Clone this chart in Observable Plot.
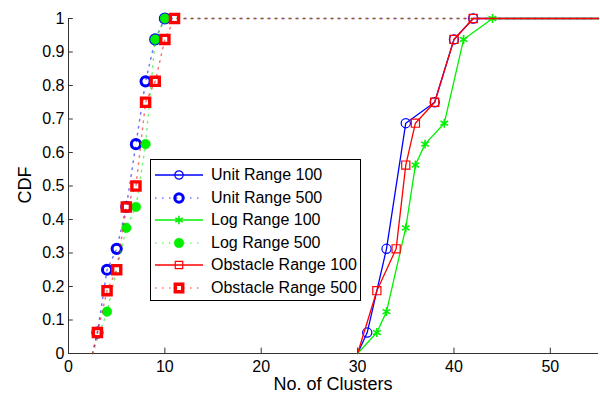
<!DOCTYPE html>
<html>
<head>
<meta charset="utf-8">
<script src="https://cdn.jsdelivr.net/npm/d3@7"></script>
<script src="https://cdn.jsdelivr.net/npm/@observablehq/plot@0.6"></script>
<style>
  html, body { margin: 0; padding: 0; background: #fff; }
  #wrap { position: relative; width: 600px; height: 400px; font-family: "Liberation Sans", Arial, sans-serif; }
  #legend { position: absolute; left: 150px; top: 159px; width: 211px; height: 142px; border: 1px solid #000; background: #fff; box-sizing: border-box; }
  .row { position: absolute; left: 0; height: 22px; display: flex; align-items: center; }
  .row span { font-size: 16px; color: #000; margin-left: 6px; white-space: nowrap; }
</style>
</head>
<body>
<div id="wrap"></div>
<script>
// ---- data ----
const unit100X = [30, 31, 33, 35, 38, 40, 42, 55];
const unit100Y = [0, 0.0625, 0.3125, 0.6875, 0.75, 0.9375, 1, 1];
const unit500X = [2.5, 3, 4, 5, 6, 7, 8, 9, 10, 55];
const unit500Y = [0, 0.0625, 0.25, 0.3125, 0.4375, 0.625, 0.8125, 0.9375, 1, 1];
const log100X = [30, 32, 33, 35, 36, 37, 39, 41, 44, 55];
const log100Y = [0, 0.0625, 0.125, 0.375, 0.5625, 0.625, 0.6875, 0.9375, 1, 1];
const log500X = [2.5, 4, 6, 7, 8, 9, 10, 55];
const log500Y = [0, 0.125, 0.375, 0.4375, 0.625, 0.9375, 1, 1];
const obst100X = [30, 32, 34, 35, 36, 38, 40, 42, 55];
const obst100Y = [0, 0.1875, 0.3125, 0.5625, 0.6875, 0.75, 0.9375, 1, 1];
const obst500X = [2.5, 3, 4, 5, 6, 7, 8, 9, 10, 11, 55];
const obst500Y = [0, 0.0625, 0.1875, 0.25, 0.4375, 0.5, 0.75, 0.8125, 0.9375, 1, 1];
const xTicks = [0, 10, 20, 30, 40, 50];
const yTicks = [0, 0.1, 0.2, 0.3, 0.4, 0.5, 0.6, 0.7, 0.8, 0.9, 1];
const yTickLabels = ["0", "0.1", "0.2", "0.3", "0.4", "0.5", "0.6", "0.7", "0.8", "0.9", "1"];
const seriesNames = ["Unit Range 100", "Unit Range 500", "Log Range 100", "Log Range 500", "Obstacle Range 100", "Obstacle Range 500"];

const BLUE = "#0000ff", GREEN = "#00f000", RED = "#ff0000";

function pts(xs, ys) { return xs.map((x, i) => ({x, y: ys[i]})); }
// markers are drawn at data points, excluding the padded curve ends
function markers(xs, ys) { return pts(xs, ys).filter((d, i) => i > 0 && i < xs.length - 1); }

const u100 = pts(unit100X, unit100Y), u500 = pts(unit500X, unit500Y);
const l100 = pts(log100X, log100Y), l500 = pts(log500X, log500Y);
const o100 = pts(obst100X, obst100Y), o500 = pts(obst500X, obst500Y);

const dotted = "1.5,5.5";
const dotOp = 0.55;

const chart = Plot.plot({
  width: 600,
  height: 400,
  marginLeft: 68,
  marginRight: 2,
  marginTop: 18,
  marginBottom: 47,
  style: { fontFamily: "Liberation Sans, Arial, sans-serif", fontSize: "16px", background: "#fff" },
  x: { type: "linear", domain: [0, 55], label: null },
  y: { type: "linear", domain: [0, 1], label: null },
  marks: [
    // axes lines
    Plot.ruleY([0], { x1: 0, x2: 55, stroke: "#333", strokeWidth: 1 }),
    Plot.ruleX([0], { y1: 0, y2: 1, stroke: "#333", strokeWidth: 1 }),
    // inward ticks
    Plot.ruleX(xTicks.filter(d => d > 0), { x: d => d, y1: 0, y2: 0.016, stroke: "#333", strokeWidth: 1 }),
    Plot.axisX(xTicks, { tickSize: 0, tickPadding: 7, fontSize: 16, fill: "#000", tickFormat: d => String(d), label: null }),
    Plot.axisY(yTicks, { tickSize: 0, tickPadding: 4, fontSize: 16, fill: "#000", tickFormat: (d, i) => yTickLabels[i], label: null }),
    // 100 series (solid) and 500 series (dotted)
    Plot.line(u100, { x: "x", y: "y", stroke: BLUE, strokeWidth: 1.3 }),
    Plot.dot(markers(unit100X, unit100Y), { x: "x", y: "y", r: 4.6, stroke: BLUE, strokeWidth: 1.2, fill: "none" }),
    Plot.line(u500, { x: "x", y: "y", stroke: BLUE, strokeWidth: 1.5, strokeDasharray: dotted, strokeOpacity: dotOp }),
    Plot.dot(markers(unit500X, unit500Y), { x: "x", y: "y", r: 4.6, stroke: BLUE, strokeWidth: 3, fill: "none" }),
    Plot.line(l100, { x: "x", y: "y", stroke: GREEN, strokeWidth: 1.3 }),
    Plot.dot(markers(log100X, log100Y), { x: "x", y: "y", r: 4.2, symbol: "asterisk", stroke: GREEN, strokeWidth: 1.6 }),
    Plot.line(l500, { x: "x", y: "y", stroke: GREEN, strokeWidth: 1.5, strokeDasharray: dotted, strokeOpacity: dotOp }),
    Plot.dot(markers(log500X, log500Y), { x: "x", y: "y", r: 4.8, fill: GREEN, stroke: GREEN, strokeWidth: 0.5 }),
    Plot.line(o100, { x: "x", y: "y", stroke: RED, strokeWidth: 1.3 }),
    Plot.dot(markers(obst100X, obst100Y), { x: "x", y: "y", r: 4.6, symbol: "square", stroke: RED, strokeWidth: 1.2, fill: "none" }),
    Plot.line(o500, { x: "x", y: "y", stroke: RED, strokeWidth: 1.5, strokeDasharray: dotted, strokeOpacity: dotOp }),
    Plot.dot(markers(obst500X, obst500Y), { x: "x", y: "y", r: 4.6, symbol: "square", stroke: RED, strokeWidth: 3.4, fill: "none" }),
    // y ticks (inward)
    Plot.ruleY(yTicks.filter(d => d > 0), { y: d => d, x1: 0, x2: 0.5, stroke: "#333", strokeWidth: 1 })
  ]
});

const wrap = document.getElementById("wrap");
wrap.appendChild(chart);

// axis titles
const svg = d3.select(chart);
svg.append("text").attr("x", 333).attr("y", 390).attr("text-anchor", "middle")
  .attr("font-size", 18).attr("fill", "#000").text("No. of Clusters");
svg.append("text").attr("transform", "translate(31,185) rotate(-90)").attr("text-anchor", "middle")
  .attr("font-size", 18).attr("fill", "#000").text("CDF");

// legend
const legend = document.createElement("div");
legend.id = "legend";
const sampleSpecs = [
  { color: BLUE, dash: null, sym: "circle", r: 4.2, sw: 1.2, fill: "none" },
  { color: BLUE, dash: dotted, sym: "circle", r: 4.2, sw: 3, fill: "none" },
  { color: GREEN, dash: null, sym: "asterisk", r: 4, sw: 1.6, fill: "none" },
  { color: GREEN, dash: dotted, sym: "circle", r: 4.8, sw: 0.5, fill: GREEN },
  { color: RED, dash: null, sym: "square", r: 4.2, sw: 1.2, fill: "none" },
  { color: RED, dash: dotted, sym: "square", r: 4.2, sw: 3.4, fill: "none" }
];
const symMap = { circle: d3.symbolCircle, square: d3.symbolSquare, asterisk: d3.symbolAsterisk };
seriesNames.forEach((name, i) => {
  const s = sampleSpecs[i];
  const row = document.createElement("div");
  row.className = "row";
  row.style.top = (4 + i * 22.6) + "px";
  const ns = "http://www.w3.org/2000/svg";
  const sv = document.createElementNS(ns, "svg");
  sv.setAttribute("width", 54); sv.setAttribute("height", 22);
  const ln = document.createElementNS(ns, "line");
  ln.setAttribute("x1", 4); ln.setAttribute("x2", 52); ln.setAttribute("y1", 11); ln.setAttribute("y2", 11);
  ln.setAttribute("stroke", s.color); ln.setAttribute("stroke-width", s.dash ? 1.5 : 1.3);
  if (s.dash) { ln.setAttribute("stroke-dasharray", s.dash); ln.setAttribute("stroke-opacity", dotOp); }
  sv.appendChild(ln);
  const p = document.createElementNS(ns, "path");
  p.setAttribute("d", d3.symbol(symMap[s.sym], s.r * s.r * Math.PI)());
  p.setAttribute("transform", "translate(28,11)");
  p.setAttribute("stroke", s.color); p.setAttribute("stroke-width", s.sw); p.setAttribute("fill", s.fill);
  sv.appendChild(p);
  row.appendChild(sv);
  const t = document.createElement("span");
  t.textContent = name;
  row.appendChild(t);
  legend.appendChild(row);
});
wrap.appendChild(legend);
</script>
</body>
</html>
